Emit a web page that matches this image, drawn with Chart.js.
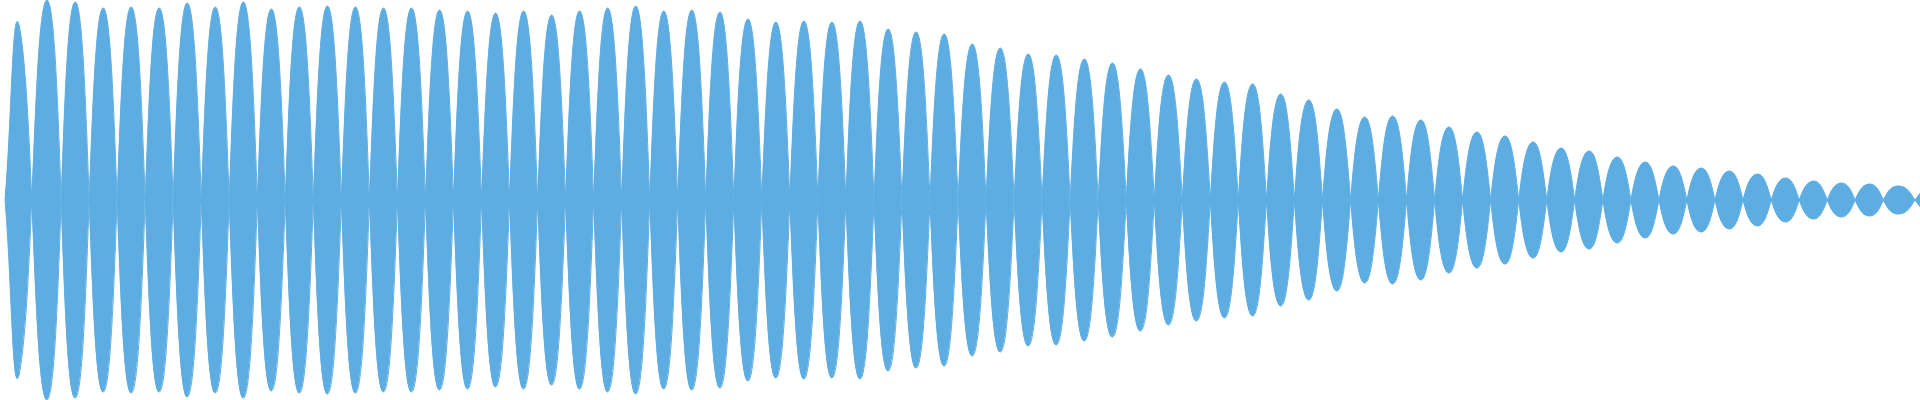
<!DOCTYPE html>
<html>
<head>
<meta charset="utf-8">
<script src="https://cdn.jsdelivr.net/npm/chart.js@4"></script>
<style>
    html, body { margin: 0; padding: 0; background: #fff; }
    #wrap { width: 1920px; height: 400px; }
</style>
</head>
<body>
<div id="wrap"><canvas id="waveChart" width="1920" height="400"></canvas></div>
<script>
// peak amplitude of each lobe, left to right (1 = full half-height)
const peaks = [
    0.875, 1.0, 0.99, 0.96, 0.965, 0.96, 0.985, 0.965, 0.99, 0.955,
    0.965, 0.97, 0.965, 0.96, 0.96, 0.95, 0.945, 0.935, 0.945, 0.925,
    0.945, 0.96, 0.97, 0.945, 0.95, 0.94, 0.905, 0.89, 0.895, 0.89,
    0.895, 0.855, 0.84, 0.83, 0.78, 0.76, 0.73, 0.725, 0.705, 0.685,
    0.655, 0.625, 0.605, 0.59, 0.58, 0.53, 0.5, 0.455, 0.415, 0.42,
    0.4, 0.365, 0.34, 0.32, 0.29, 0.26, 0.245, 0.215, 0.19, 0.17,
    0.16, 0.145, 0.13, 0.11, 0.095, 0.085, 0.08, 0.07, 0.06
];
const xMin = -0.36;
const xMax = 136.64;
const yLimit = 1.0;
const waveColor = '#5DADE2';

// signal starts at rest, then one peak per lobe with the sign flipping each time
const upper = [{ x: 0, y: 0 }];
peaks.forEach((p, i) => {
    upper.push({ x: 2 * i + 1, y: i % 2 === 0 ? p : -p });
});
const lower = upper.map(pt => ({ x: pt.x, y: -pt.y }));

function waveSet(points) {
    return {
        data: points,
        borderWidth: 1,
        pointRadius: 0,
        backgroundColor: waveColor,
        borderColor: waveColor,
        fill: 'origin',
        tension: 0.5
    };
}

new Chart(document.getElementById('waveChart'), {
    type: 'line',
    data: { datasets: [waveSet(upper), waveSet(lower)] },
    options: {
        responsive: false,
        animation: false,
        layout: { padding: 0 },
        plugins: { legend: { display: false }, tooltip: { enabled: false } },
        scales: {
            x: { type: 'linear', min: xMin, max: xMax, display: false },
            y: { min: -yLimit, max: yLimit, display: false }
        }
    }
});
</script>
</body>
</html>
